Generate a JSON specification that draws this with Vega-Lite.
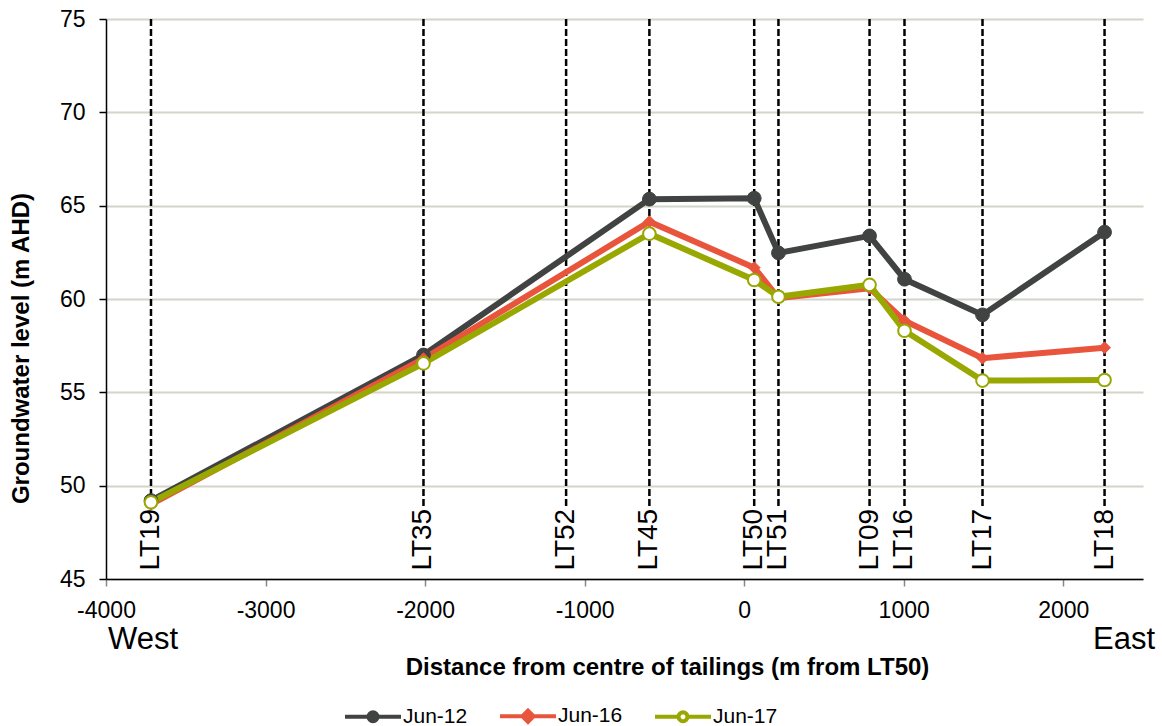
{
  "$schema": "https://vega.github.io/schema/vega-lite/v6.json",
  "width": 1037,
  "height": 560,
  "autosize": {"type": "none"},
  "padding": {"left": 106, "top": 19, "right": 19, "bottom": 147},
  "background": "white",
  "config": {
    "font": "Liberation Sans",
    "view": {"stroke": null},
    "text": {"font": "Liberation Sans", "color": "black"}
  },
  "datasets": {
    "wells": [
      {"well": "LT19", "x": -3718},
      {"well": "LT35", "x": -2010},
      {"well": "LT52", "x": -1116},
      {"well": "LT45", "x": -594},
      {"well": "LT50", "x": 63},
      {"well": "LT51", "x": 215},
      {"well": "LT09", "x": 786},
      {"well": "LT16", "x": 1005},
      {"well": "LT17", "x": 1494},
      {"well": "LT18", "x": 2259}
    ],
    "levels": [
      {"series": "Jun-12", "well": "LT19", "x": -3718, "value": 49.2},
      {"series": "Jun-12", "well": "LT35", "x": -2010, "value": 57.0},
      {"series": "Jun-12", "well": "LT45", "x": -594, "value": 65.35},
      {"series": "Jun-12", "well": "LT50", "x": 63, "value": 65.4},
      {"series": "Jun-12", "well": "LT51", "x": 215, "value": 62.47},
      {"series": "Jun-12", "well": "LT09", "x": 786, "value": 63.38},
      {"series": "Jun-12", "well": "LT16", "x": 1005, "value": 61.06},
      {"series": "Jun-12", "well": "LT17", "x": 1494, "value": 59.15},
      {"series": "Jun-12", "well": "LT18", "x": 2259, "value": 63.58},
      {"series": "Jun-16", "well": "LT19", "x": -3718, "value": 49.0},
      {"series": "Jun-16", "well": "LT35", "x": -2010, "value": 56.8},
      {"series": "Jun-16", "well": "LT45", "x": -594, "value": 64.14},
      {"series": "Jun-16", "well": "LT50", "x": 63, "value": 61.68},
      {"series": "Jun-16", "well": "LT51", "x": 215, "value": 60.05},
      {"series": "Jun-16", "well": "LT09", "x": 786, "value": 60.58},
      {"series": "Jun-16", "well": "LT16", "x": 1005, "value": 58.84},
      {"series": "Jun-16", "well": "LT17", "x": 1494, "value": 56.83},
      {"series": "Jun-16", "well": "LT18", "x": 2259, "value": 57.39},
      {"series": "Jun-17", "well": "LT19", "x": -3718, "value": 49.11},
      {"series": "Jun-17", "well": "LT35", "x": -2010, "value": 56.55},
      {"series": "Jun-17", "well": "LT45", "x": -594, "value": 63.5},
      {"series": "Jun-17", "well": "LT50", "x": 63, "value": 61.02},
      {"series": "Jun-17", "well": "LT51", "x": 215, "value": 60.12},
      {"series": "Jun-17", "well": "LT09", "x": 786, "value": 60.76},
      {"series": "Jun-17", "well": "LT16", "x": 1005, "value": 58.3},
      {"series": "Jun-17", "well": "LT17", "x": 1494, "value": 55.63},
      {"series": "Jun-17", "well": "LT18", "x": 2259, "value": 55.66}
    ]
  },
  "layer": [
    {
      "data": {"name": "wells"},
      "mark": {"type": "rule", "color": "black", "strokeWidth": 2.5, "strokeDash": [7, 3]},
      "encoding": {
        "x": {
          "field": "x", "type": "quantitative",
          "scale": {"domain": [-4000, 2500], "nice": false, "zero": false},
          "axis": {
            "values": [-4000, -3000, -2000, -1000, 0, 1000, 2000],
            "labelExpr": "'' + datum.value",
            "grid": false,
            "domainColor": "black", "domainWidth": 1.5,
            "tickColor": "#888888", "tickSize": 7, "tickWidth": 1.5,
            "labelFontSize": 23, "labelColor": "black", "labelPadding": 13,
            "labelFlush": false, "labelOverlap": false, "labelBound": false,
            "title": "Distance from centre of tailings (m from LT50)",
            "titleFontSize": 24, "titleFontWeight": "bold", "titleColor": "black",
            "titlePadding": 33, "titleX": 561
          }
        },
        "y": {
          "datum": 75, "type": "quantitative",
          "scale": {"domain": [45, 75], "nice": false, "zero": false},
          "axis": {
            "values": [45, 50, 55, 60, 65, 70, 75],
            "grid": true, "gridColor": "#d4d4c8", "gridWidth": 2,
            "domainColor": "black", "domainWidth": 1.5,
            "tickColor": "black", "tickSize": 7, "tickWidth": 1.5,
            "labelFontSize": 23, "labelColor": "black", "labelPadding": 14,
            "title": "Groundwater level (m AHD)",
            "titleFontSize": 24, "titleFontWeight": "bold", "titleColor": "black",
            "titlePadding": 26, "titleY": 329
          }
        },
        "y2": {"datum": 48.9}
      }
    },
    {
      "data": {"name": "levels"},
      "mark": {"type": "line", "strokeWidth": 6},
      "encoding": {
        "x": {"field": "x", "type": "quantitative"},
        "y": {"field": "value", "type": "quantitative"},
        "color": {
          "field": "series", "type": "nominal",
          "scale": {"domain": ["Jun-12", "Jun-16", "Jun-17"], "range": ["#404341", "#e9543c", "#99a800"]},
          "legend": {
            "orient": "none", "legendX": 237, "legendY": 667,
            "direction": "horizontal", "title": null,
            "labelFontSize": 21, "labelColor": "black", "labelFont": "Liberation Sans",
            "symbolSize": 3136, "labelOffset": 0, "columnPadding": 24, "padding": 0,
            "symbolStrokeWidth": 4,
            "symbolType": "M-1,0L-0.16,0M0.16,0L1,0M0.16,0L0.1478,0.0612L0.1131,0.1131L0.0612,0.1478L0,0.16L-0.0612,0.1478L-0.1131,0.1131L-0.1478,0.0612L-0.16,0L-0.1478,-0.0612L-0.1131,-0.1131L-0.0612,-0.1478L0,-0.16L0.0612,-0.1478L0.1131,-0.1131L0.1478,-0.0612Z",
            "encode": {
              "symbols": {
                "update": {
                  "shape": {"signal": "datum.value === 'Jun-16' ? 'M-1,0L1,0M0,-0.2L0.2,0L0,0.2L-0.2,0Z' : 'M-1,0L-0.16,0M0.16,0L1,0M0.16,0L0.1478,0.0612L0.1131,0.1131L0.0612,0.1478L0,0.16L-0.0612,0.1478L-0.1131,0.1131L-0.1478,0.0612L-0.16,0L-0.1478,-0.0612L-0.1131,-0.1131L-0.0612,-0.1478L0,-0.16L0.0612,-0.1478L0.1131,-0.1131L0.1478,-0.0612Z'"},
                  "fill": {"signal": "datum.value === 'Jun-17' ? 'white' : scale('color', datum.value)"},
                  "stroke": {"signal": "scale('color', datum.value)"},
                  "strokeWidth": {"value": 4},
                  "opacity": {"value": 1}
                }
              }
            }
          }
        }
      }
    },
    {
      "data": {"name": "levels"},
      "transform": [{"filter": "datum.series === 'Jun-12'"}],
      "mark": {"type": "point", "shape": "circle", "filled": true, "opacity": 1, "fill": "#404341", "stroke": "#404341", "strokeWidth": 1, "size": 190},
      "encoding": {
        "x": {"field": "x", "type": "quantitative"},
        "y": {"field": "value", "type": "quantitative"}
      }
    },
    {
      "data": {"name": "levels"},
      "transform": [{"filter": "datum.series === 'Jun-16'"}],
      "mark": {"type": "point", "shape": "diamond", "filled": true, "opacity": 1, "fill": "#e9543c", "stroke": "#e9543c", "strokeWidth": 1, "size": 140},
      "encoding": {
        "x": {"field": "x", "type": "quantitative"},
        "y": {"field": "value", "type": "quantitative"}
      }
    },
    {
      "data": {"name": "levels"},
      "transform": [{"filter": "datum.series === 'Jun-17'"}],
      "mark": {"type": "point", "shape": "circle", "filled": true, "opacity": 1, "fill": "#ffffff", "stroke": "#99a800", "strokeWidth": 2, "size": 160},
      "encoding": {
        "x": {"field": "x", "type": "quantitative"},
        "y": {"field": "value", "type": "quantitative"}
      }
    },
    {
      "data": {"name": "wells"},
      "mark": {"type": "text", "angle": 270, "align": "left", "baseline": "middle", "fontSize": 28, "color": "black"},
      "encoding": {
        "x": {"field": "x", "type": "quantitative"},
        "y": {"datum": 45.45, "type": "quantitative"},
        "text": {"field": "well"}
      }
    },
    {
      "data": {"values": [{}]},
      "mark": {"type": "text", "text": "West", "align": "left", "baseline": "middle", "fontSize": 31, "dy": 61, "dx": 2, "color": "black"},
      "encoding": {
        "x": {"datum": -4000, "type": "quantitative"},
        "y": {"datum": 45, "type": "quantitative"}
      }
    },
    {
      "data": {"values": [{}]},
      "mark": {"type": "text", "text": "East", "align": "right", "baseline": "middle", "fontSize": 31, "dy": 61, "dx": 12, "color": "black"},
      "encoding": {
        "x": {"datum": 2500, "type": "quantitative"},
        "y": {"datum": 45, "type": "quantitative"}
      }
    }
  ]
}
